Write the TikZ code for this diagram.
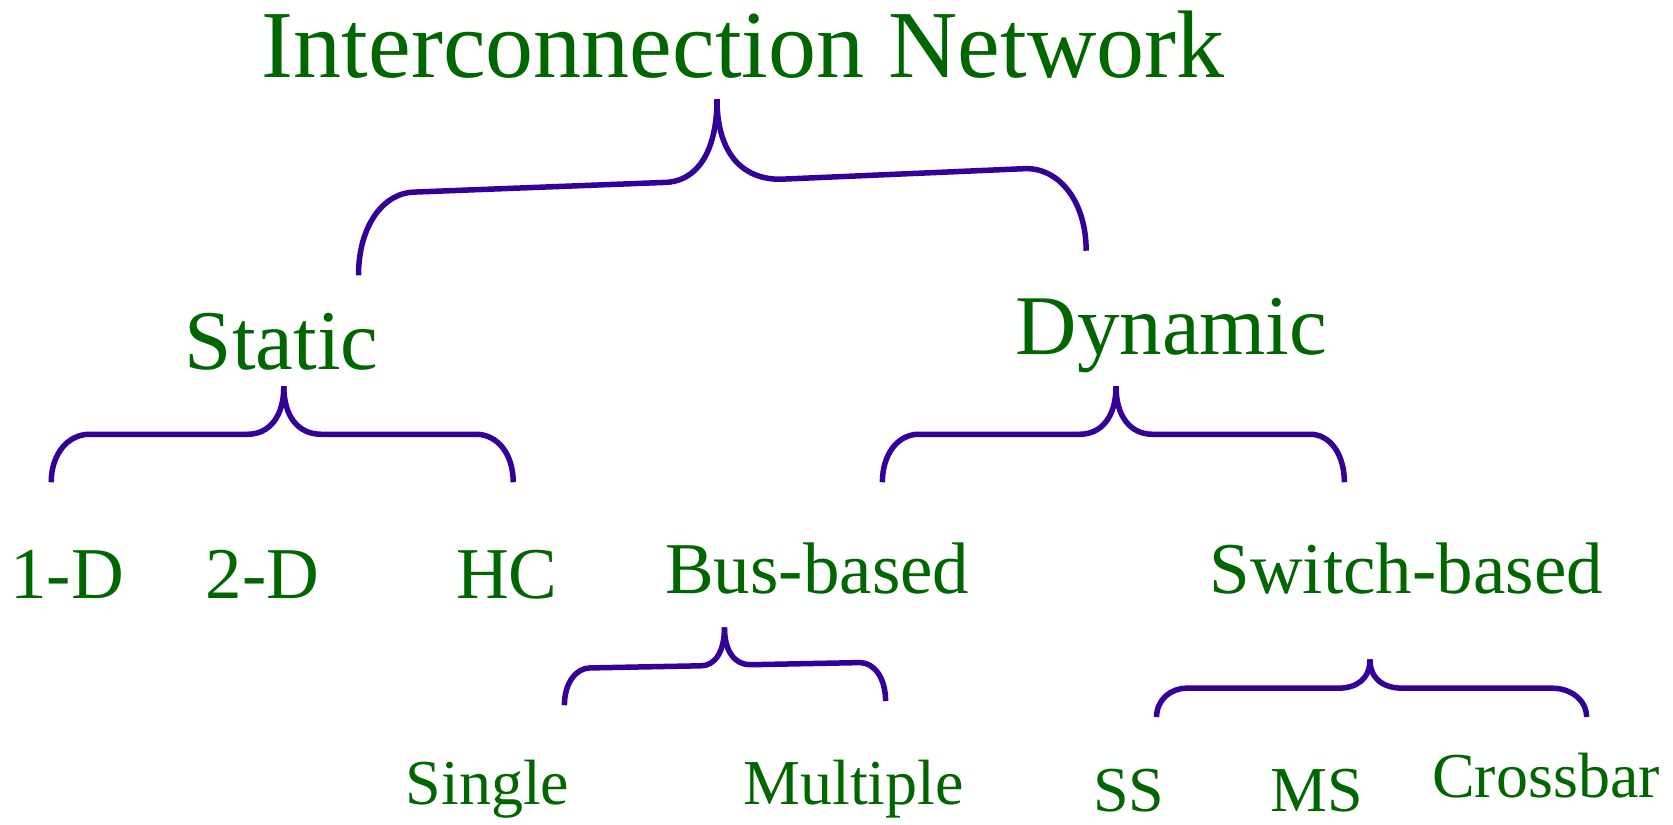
\documentclass[tikz,border=0pt]{standalone}
\usepackage{fontspec}
\setmainfont{Liberation Serif}
\definecolor{txtgreen}{HTML}{006600}
\definecolor{bracecol}{HTML}{330099}
\begin{document}
\begin{tikzpicture}[x=1.06696pt,y=-1.06696pt,
  lbl/.style={inner sep=0pt,anchor=base,text=txtgreen},
  lvlA/.style={lbl,font=\fontsize{96}{100}\selectfont},
  lvlB/.style={lbl,font=\fontsize{85}{90}\selectfont},
  lvlC/.style={lbl,font=\fontsize{73}{78}\selectfont},
  lvlD/.style={lbl,font=\fontsize{64}{68}\selectfont},
  bracearm/.style={draw=bracecol,line width=5.5pt,line join=round}]
\useasboundingbox (0,0) rectangle (1568,773);
% texts
\node[lvlA] (net) at (696.5,73) {Interconnection Network};
\node[lvlB] (static) at (264,346) {Static};
\node[lvlB] (dynamic) at (1098,332) {Dynamic};
\node[lvlC] (oned) at (63,561) {1-D};
\node[lvlC] (twod) at (246,561) {2-D};
\node[lvlC] (hc) at (475,561) {HC};
\node[lvlC] (bus) at (766,556) {Bus-based};
\node[lvlC] (switch) at (1318,556) {Switch-based};
\node[lvlD] (single) at (457,754) {Single};
\node[lvlD] (multiple) at (800,754) {Multiple};
\node[lvlD] (ss) at (1058,761) {SS};
\node[lvlD] (ms) at (1234,761) {MS};
\node[lvlD] (crossbar) at (1449,747) {Crossbar};
% braces
% title brace
\draw[bracearm] (672,93) .. controls (672,144) and (652,171) .. (622,171) -- (389,180)
  .. controls (360,180) and (336,211) .. (336,258);
\draw[bracearm] (672,93) .. controls (672,144) and (696,168) .. (731,168) -- (962,158)
  .. controls (993,158) and (1018,189) .. (1018,235);
% static brace
\draw[bracearm] (266,362) .. controls (266,391) and (252,407) .. (232,407) -- (84,407)
  .. controls (64,407) and (48,425) .. (48,452);
\draw[bracearm] (266,362) .. controls (266,391) and (280,407) .. (301,407) -- (446,407)
  .. controls (466,407) and (481,425) .. (481,452);
% dynamic brace
\draw[bracearm] (1046,362) .. controls (1046,391) and (1032,407) .. (1012,407) -- (861,407)
  .. controls (842,407) and (827,425) .. (827,452);
\draw[bracearm] (1046,362) .. controls (1046,391) and (1060,407) .. (1080,407) -- (1228,407)
  .. controls (1246,407) and (1260,425) .. (1260,452);
% bus brace
\draw[bracearm] (679,588) .. controls (679,611) and (670,624) .. (657,624) -- (553,626)
  .. controls (540,626) and (529,640) .. (529,661);
\draw[bracearm] (679,588) .. controls (679,611) and (689,623) .. (703,623) -- (806,621)
  .. controls (819,621) and (830,635) .. (830,657);
% switch brace
\draw[bracearm] (1284,618) .. controls (1284,636) and (1272,645) .. (1254,645) -- (1112,645)
  .. controls (1097,645) and (1084,656) .. (1084,672);
\draw[bracearm] (1284,618) .. controls (1284,636) and (1296,645) .. (1315,645) -- (1455,645)
  .. controls (1472,645) and (1487,656) .. (1487,672);
\end{tikzpicture}
\end{document}
